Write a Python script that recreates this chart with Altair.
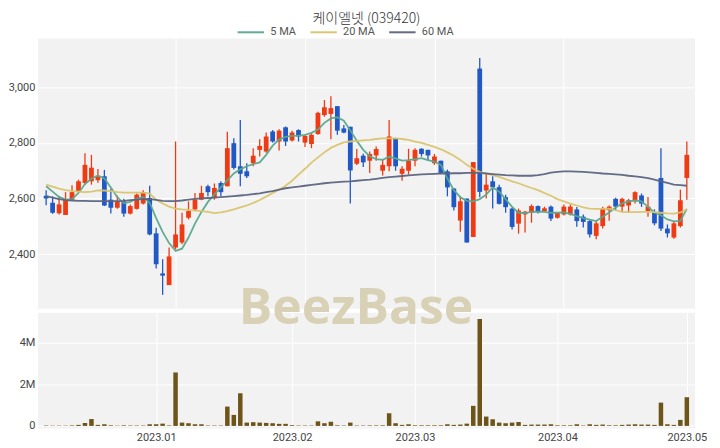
import altair as alt
import pandas as pd

# ---- data ----
opens = [2610, 2585, 2547, 2541, 2596, 2626, 2656, 2662, 2666, 2680,
         2596, 2567, 2590, 2546, 2563, 2582, 2602, 2475, 2331, 2289,
         2424, 2442, 2531, 2561, 2596, 2644, 2602, 2656, 2644, 2799,
         2716, 2698, 2727, 2775, 2769, 2841, 2805, 2856, 2809, 2846,
         2801, 2796, 2832, 2900, 2904, 2932, 2852, 2858, 2725, 2754,
         2736, 2755, 2700, 2716, 2817, 2689, 2700, 2736, 2779, 2775,
         2727, 2736, 2698, 2636, 2521, 2600, 2462, 3067, 2629, 2662,
         2641, 2605, 2564, 2510, 2543, 2549, 2573, 2555, 2571, 2531,
         2543, 2543, 2561, 2535, 2519, 2466, 2501, 2558, 2599, 2571,
         2575, 2594, 2611, 2555, 2551, 2674, 2492, 2460, 2501, 2674]
highs = [2630, 2608, 2608, 2623, 2648, 2668, 2763, 2757, 2706, 2703,
         2635, 2611, 2599, 2579, 2618, 2630, 2646, 2495, 2382, 2424,
         2805, 2549, 2590, 2620, 2646, 2650, 2654, 2662, 2840, 2817,
         2882, 2727, 2781, 2813, 2837, 2846, 2849, 2859, 2844, 2849,
         2829, 2835, 2912, 2954, 2968, 2932, 2864, 2858, 2778, 2761,
         2769, 2787, 2739, 2882, 2818, 2716, 2779, 2781, 2781, 2775,
         2760, 2736, 2704, 2638, 2608, 2600, 2731, 3105, 2688, 2680,
         2650, 2614, 2567, 2564, 2555, 2579, 2575, 2571, 2575, 2551,
         2579, 2579, 2570, 2543, 2525, 2519, 2571, 2575, 2603, 2603,
         2599, 2626, 2618, 2606, 2561, 2781, 2507, 2519, 2632, 2805]
lows = [2576, 2545, 2543, 2541, 2596, 2621, 2650, 2650, 2657, 2573,
        2546, 2563, 2535, 2543, 2561, 2579, 2468, 2349, 2254, 2289,
        2418, 2436, 2525, 2555, 2594, 2608, 2596, 2608, 2644, 2704,
        2644, 2674, 2716, 2751, 2765, 2801, 2773, 2789, 2805, 2805,
        2785, 2781, 2829, 2894, 2813, 2829, 2835, 2582, 2721, 2713,
        2692, 2736, 2683, 2698, 2700, 2664, 2686, 2716, 2751, 2736,
        2721, 2688, 2608, 2557, 2481, 2442, 2462, 2605, 2600, 2564,
        2579, 2549, 2489, 2474, 2478, 2513, 2546, 2551, 2519, 2528,
        2539, 2539, 2499, 2496, 2460, 2454, 2492, 2520, 2558, 2551,
        2551, 2582, 2570, 2535, 2504, 2483, 2460, 2456, 2496, 2596]
closes = [2600, 2549, 2579, 2596, 2623, 2662, 2721, 2711, 2682, 2575,
          2567, 2590, 2546, 2573, 2614, 2623, 2471, 2364, 2323, 2392,
          2471, 2507, 2555, 2596, 2620, 2623, 2638, 2623, 2781, 2710,
          2689, 2680, 2754, 2789, 2823, 2805, 2844, 2805, 2837, 2823,
          2825, 2829, 2908, 2928, 2925, 2844, 2837, 2701, 2745, 2730,
          2760, 2778, 2721, 2823, 2716, 2707, 2736, 2775, 2760, 2755,
          2751, 2692, 2640, 2569, 2590, 2442, 2731, 2624, 2650, 2641,
          2581, 2569, 2498, 2557, 2553, 2573, 2551, 2565, 2528, 2549,
          2571, 2571, 2519, 2516, 2471, 2511, 2563, 2571, 2571, 2599,
          2594, 2623, 2582, 2571, 2511, 2492, 2475, 2511, 2594, 2757]
volumes = [20000, 15000, 15000, 15000, 25000, 50000, 140000, 330000, 50000, 80000,
           30000, 15000, 30000, 20000, 20000, 20000, 80000, 80000, 110000, 25000,
           2570000, 160000, 130000, 80000, 80000, 20000, 20000, 20000, 930000, 530000,
           1570000, 160000, 180000, 160000, 145000, 130000, 100000, 100000, 30000, 20000,
           20000, 20000, 220000, 130000, 200000, 30000, 20000, 160000, 20000, 20000,
           25000, 25000, 30000, 610000, 130000, 50000, 80000, 30000, 30000, 30000,
           30000, 30000, 80000, 50000, 65000, 110000, 965000, 5140000, 450000, 320000,
           160000, 130000, 160000, 190000, 50000, 65000, 65000, 65000, 80000, 30000,
           30000, 30000, 80000, 20000, 80000, 50000, 65000, 30000, 30000, 50000,
           65000, 80000, 65000, 65000, 50000, 1120000, 80000, 50000, 290000, 1380000]
ma5 = [2644, 2625, 2606, 2596, 2598, 2620, 2652, 2672, 2682, 2672,
       2640, 2605, 2583, 2588, 2600, 2605, 2585, 2530, 2480, 2440,
       2412, 2420, 2460, 2510, 2552, 2588, 2615, 2640, 2665, 2690,
       2705, 2716, 2724, 2730, 2757, 2790, 2812, 2822, 2825, 2826,
       2829, 2836, 2848, 2872, 2888, 2892, 2880, 2845, 2808, 2775,
       2752, 2742, 2739, 2750, 2744, 2736, 2738, 2742, 2745, 2738,
       2733, 2721, 2672, 2630, 2605, 2592, 2590, 2598, 2614, 2640,
       2625, 2598, 2570, 2549, 2548, 2552, 2553, 2552, 2549, 2549,
       2550, 2545, 2537, 2530, 2524, 2519, 2535, 2550, 2568, 2583,
       2590, 2593, 2590, 2570, 2550, 2540, 2525, 2518, 2520, 2563]
ma20 = [2650, 2643, 2636, 2630, 2627, 2625, 2623, 2625, 2629, 2629,
        2627, 2623, 2621, 2621, 2621, 2621, 2618, 2596, 2582, 2571,
        2564, 2561, 2559, 2557, 2555, 2552, 2548, 2550, 2555, 2561,
        2568, 2575, 2584, 2595, 2607, 2620, 2632, 2646, 2664, 2686,
        2707, 2729, 2748, 2766, 2782, 2793, 2802, 2805, 2807, 2809,
        2811, 2814, 2816, 2816, 2816, 2814, 2811, 2805, 2800, 2793,
        2786, 2777, 2766, 2754, 2739, 2721, 2707, 2696, 2690, 2684,
        2678, 2670, 2662, 2655, 2646, 2638, 2630, 2620, 2610, 2598,
        2590, 2582, 2575, 2568, 2564, 2563, 2563, 2564, 2558, 2552,
        2551, 2551, 2552, 2552, 2551, 2549, 2547, 2546, 2550, 2561]
ma60 = [2609, 2603, 2598, 2594, 2593, 2592, 2592, 2591, 2591, 2591,
        2591, 2591, 2592, 2594, 2596, 2598, 2598, 2595, 2592, 2591,
        2591, 2593, 2596, 2599, 2601, 2602, 2603, 2605, 2607, 2609,
        2611, 2613, 2616, 2619, 2623, 2627, 2632, 2637, 2640, 2643,
        2646, 2649, 2652, 2655, 2657, 2659, 2661, 2662, 2664, 2666,
        2668, 2671, 2674, 2677, 2679, 2681, 2683, 2685, 2687, 2688,
        2689, 2690, 2690, 2691, 2691, 2692, 2692, 2692, 2690, 2688,
        2686, 2684, 2683, 2682, 2682, 2682, 2684, 2688, 2693, 2696,
        2698, 2698, 2697, 2696, 2694, 2692, 2690, 2689, 2687, 2685,
        2682, 2680, 2677, 2673, 2668, 2662, 2656, 2650, 2648, 2646]

ma_names = ["5 MA", "20 MA", "60 MA"]
ma_colors = ["#5aa88e", "#d8c46c", "#5b6480"]
price_ticks = [2400, 2600, 2800, 3000]
volume_ticks = [0, 2000000, 4000000]
price_grid_idx = [20, 40, 60, 80]
month_idx = [17, 38, 57, 79, 99]
month_labels = ["2023.01", "2023.02", "2023.03", "2023.04", "2023.05"]
title_text = "케이엘넷 (039420)"
watermark = "BeezBase"

UP = "#ee3b14"
DOWN = "#2059c6"

n = len(closes)
df = pd.DataFrame({"idx": list(range(n)), "open": opens, "high": highs,
                   "low": lows, "close": closes, "volume": volumes})
ma_df = pd.concat([
    pd.DataFrame({"idx": list(range(n)), "series": name, "value": vals})
    for name, vals in zip(ma_names, [ma5, ma20, ma60])
])

xscale = alt.Scale(domain=[-0.5, n - 0.5], nice=False, zero=False)
pscale = alt.Scale(domain=[2204, 3175], nice=False, zero=False)
vscale = alt.Scale(domain=[-120000, 5440000], nice=False, zero=False)

candle_color = alt.condition("datum.close >= datum.open", alt.value(UP), alt.value(DOWN))

px = alt.X("idx:Q", scale=xscale,
           axis=alt.Axis(values=price_grid_idx, labels=False, ticks=False,
                         domain=False, title=None, grid=True))

wicks = alt.Chart(df).mark_rule(strokeWidth=1.3).encode(
    x=px,
    y=alt.Y("low:Q", scale=pscale,
            axis=alt.Axis(values=price_ticks, format=",d", title=None)),
    y2="high:Q",
    color=candle_color,
)
bodies = alt.Chart(df).mark_bar(width=4.8).encode(
    x=px,
    y=alt.Y("open:Q", scale=pscale),
    y2="close:Q",
    color=candle_color,
)
lines = alt.Chart(ma_df).mark_line(strokeWidth=1.8, opacity=0.95).encode(
    x=px,
    y=alt.Y("value:Q", scale=pscale),
    color=alt.Color("series:N",
                    scale=alt.Scale(domain=ma_names, range=ma_colors),
                    sort=ma_names,
                    legend=alt.Legend(orient="none", legendX=199, legendY=-21,
                                      direction="horizontal", title=None,
                                      symbolType="stroke", symbolStrokeWidth=2,
                                      symbolSize=700, labelFontSize=11,
                                      labelColor="#555555", labelFont="Roboto",
                                      columnPadding=10, labelOffset=5)),
)
price = alt.layer(wicks, bodies, lines).properties(width=659, height=271)

vx = alt.X("idx:Q", scale=xscale,
           axis=alt.Axis(values=month_idx, title=None, grid=True, ticks=False,
                         domain=False, labelPadding=3, labelFlush=False,
                         labelExpr=" : ".join(
                             f"datum.value == {i} ? '{l}'" for i, l in zip(month_idx, month_labels)
                         ) + " : ''"))
vol_bars = alt.Chart(df).mark_bar(width=4.5, color="#6d5519").encode(
    x=vx,
    y=alt.Y("volume:Q", scale=vscale,
            axis=alt.Axis(values=volume_ticks, title=None,
                          labelExpr="datum.value == 0 ? '0' : (datum.value / 1000000) + 'M'")),
    y2=alt.datum(0),
)
wm = alt.Chart(pd.DataFrame({"t": [watermark]})).mark_text(
    font="Open Sans", fontSize=50, fontWeight="bold", color="#d8d1b6",
    align="center", baseline="middle",
).encode(x=alt.value(319), y=alt.value(-4), text="t:N")
volume = alt.layer(vol_bars, wm).properties(width=659, height=116)

chart = alt.vconcat(price, volume, spacing=4, bounds="flush").properties(
    title=alt.TitleParams(title_text, fontSize=14, font="Noto Sans CJK KR",
                          fontWeight=300, color="#333333", anchor="middle",
                          frame="group", offset=-8),
    padding={"left": 0, "top": 3, "right": 5, "bottom": 0},
).configure_view(fill="#f2f2f2", stroke=None).configure_axis(
    gridColor="#ffffff", gridWidth=1, domain=False, ticks=False,
    labelFont="Roboto", labelFontSize=11, labelColor="#444444", labelPadding=3,
)

chart.save("out.html", embed_options={"renderer": "svg", "actions": False})
